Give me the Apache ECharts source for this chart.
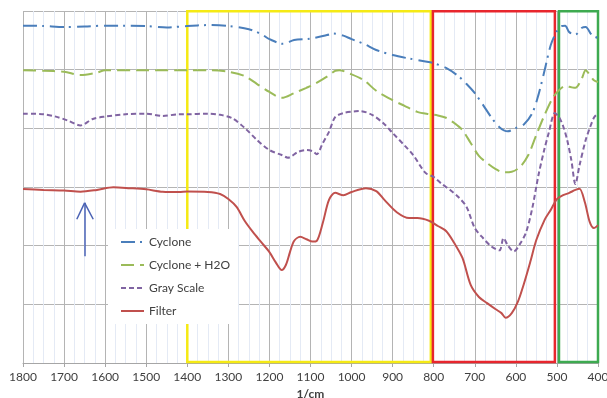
<!DOCTYPE html>
<html>
<head>
<meta charset="utf-8">
<script src="https://cdn.jsdelivr.net/npm/echarts@6/dist/echarts.min.js"></script>
<style>
  html, body { margin: 0; padding: 0; background: #fff; }
  #chart { width: 607px; height: 398px; }
</style>
</head>
<body>
<div id="chart"></div>
<script>
// x ticks (wavenumber, 1/cm)
const xTicks = [1800, 1700, 1600, 1500, 1400, 1300, 1200, 1100, 1000, 900, 800, 700, 600, 500, 400]

// Cyclone
const cycloneX = [1800, 1750, 1700, 1650, 1600, 1550, 1500, 1450, 1400, 1350, 1300, 1250, 1220, 1200, 1167, 1140, 1100, 1060, 1045, 1020, 1000, 970, 940, 900, 860, 820, 800, 770, 740, 720, 700, 680, 660, 640, 620, 600, 580, 560, 545, 530, 515, 500, 490, 480, 470, 455, 440, 430, 415, 400]
const cycloneY = [57.5, 57.44, 57.27, 57.35, 57.5, 57.5, 57.44, 57.2, 57.44, 57.6, 57.44, 56.9, 56.07, 55.2, 54.4, 55.05, 55.3, 55.9, 56.16, 55.8, 55.2, 54.4, 53.35, 52.5, 51.9, 51.4, 51.1, 50.3, 48.9, 47.55, 46.0, 44.0, 41.9, 40.2, 39.5, 40.05, 40.7, 42.6, 45.7, 49.9, 54.2, 56.6, 57.4, 57.5, 56.4, 56.0, 57.1, 57.27, 55.9, 55.4]

// Cyclone + H2O
const waterX = [1800, 1750, 1700, 1660, 1620, 1600, 1500, 1400, 1350, 1300, 1260, 1230, 1200, 1170, 1140, 1110, 1090, 1060, 1040, 1030, 1000, 970, 940, 900, 870, 840, 810, 790, 770, 750, 730, 710, 690, 670, 650, 630, 610, 590, 570, 550, 530, 510, 495, 480, 465, 455, 440, 430, 420, 410, 400]
const waterY = [49.9, 49.8, 49.65, 49.1, 49.5, 49.9, 49.9, 49.9, 49.9, 49.65, 48.9, 47.55, 46.2, 45.2, 46.0, 46.9, 47.55, 48.8, 49.8, 49.9, 49.2, 48.2, 46.4, 44.8, 43.8, 42.8, 42.4, 42.2, 41.8, 40.9, 39.7, 37.5, 35.3, 34.1, 33.1, 32.5, 32.6, 33.4, 35.4, 38.9, 42.3, 45.2, 46.5, 47.2, 47.0, 46.9, 48.4, 49.9, 49.1, 48.2, 47.9]

// Gray Scale
const grayX = [1800, 1750, 1720, 1690, 1660, 1630, 1600, 1550, 1500, 1460, 1420, 1400, 1350, 1320, 1290, 1260, 1230, 1200, 1170, 1155, 1130, 1110, 1095, 1085, 1070, 1055, 1040, 1020, 990, 980, 950, 920, 900, 870, 850, 820, 800, 780, 760, 740, 720, 700, 680, 660, 640, 630, 620, 605, 590, 575, 560, 545, 530, 520, 505, 495, 485, 475, 465, 455, 445, 430, 420, 410, 400]
const grayY = [42.5, 42.4, 42.0, 41.3, 40.5, 41.6, 42.0, 42.4, 42.5, 42.1, 42.4, 42.4, 42.5, 42.3, 41.7, 40.05, 38.0, 36.3, 35.45, 35.0, 36.0, 36.3, 36.1, 35.6, 37.5, 39.4, 41.9, 42.6, 42.9, 42.95, 42.3, 40.7, 39.2, 37.0, 35.45, 32.4, 31.7, 30.5, 29.5, 28.3, 26.6, 23.0, 21.3, 19.9, 19.2, 21.3, 20.1, 19.0, 20.3, 22.3, 26.4, 32.0, 36.6, 39.2, 42.6, 41.9, 40.4, 38.0, 34.6, 30.5, 33.7, 38.0, 40.05, 41.8, 42.6]

// Filter
const filterX = [1800, 1750, 1700, 1660, 1620, 1580, 1540, 1500, 1460, 1420, 1400, 1350, 1320, 1300, 1280, 1260, 1240, 1220, 1200, 1185, 1170, 1160, 1150, 1140, 1125, 1110, 1095, 1085, 1070, 1055, 1040, 1020, 1000, 965, 940, 920, 890, 860, 840, 810, 790, 770, 750, 730, 710, 690, 670, 650, 635, 625, 610, 595, 580, 565, 550, 530, 515, 500, 485, 470, 455, 445, 432, 420, 410, 400]
const filterY = [29.66, 29.5, 29.4, 29.2, 29.5, 29.95, 29.8, 29.6, 29.2, 29.15, 29.23, 29.15, 28.8, 27.95, 26.6, 24.2, 22.3, 20.6, 18.9, 17.2, 15.85, 16.7, 18.9, 20.8, 21.5, 21.1, 20.7, 20.8, 23.9, 27.8, 29.0, 28.6, 29.15, 29.8, 29.3, 27.8, 25.7, 24.7, 24.7, 24.2, 23.35, 22.5, 20.45, 17.9, 13.3, 11.25, 10.2, 9.2, 8.5, 7.7, 8.5, 10.45, 13.6, 17.2, 21.0, 24.4, 26.1, 27.95, 28.6, 29.0, 29.5, 29.7, 27.4, 24.0, 23.0, 23.5]

// highlighted ranges [from, to] in 1/cm
const yellowBox = [1400, 807]
const redBox = [802, 505]
const greenBox = [495, 400]

const chart = echarts.init(document.getElementById('chart'))

function pairs(xs, ys) {
  return xs.map((x, i) => [x, ys[i]])
}

function box(range, color) {
  return [{ xAxis: range[0], yAxis: 0.15, itemStyle: { color: 'rgba(0,0,0,0)', borderColor: color, borderWidth: 2.5 } },
          { xAxis: range[1], yAxis: 59.95 }]
}

const font = 'Lato, "Open Sans", sans-serif'

const option = {
  animation: false,
  grid: { left: 23, right: 9, top: 11, bottom: 35, outerBoundsMode: 'none' },
  legend: {
    orient: 'vertical',
    left: 108,
    top: 229,
    backgroundColor: '#ffffff',
    padding: [7, 8, 7, 12],
    itemGap: 11,
    itemWidth: 23,
    itemHeight: 14,
    itemStyle: { opacity: 0 },
    textStyle: { fontFamily: font, fontSize: 12, color: '#404040' },
    data: ['Cyclone', 'Cyclone + H2O', 'Gray Scale', 'Filter']
  },
  xAxis: {
    type: 'value',
    inverse: true,
    min: 400,
    max: 1800,
    interval: 100,
    name: '1/cm',
    nameLocation: 'middle',
    nameGap: 25,
    nameTextStyle: { fontFamily: font, fontSize: 12, fontWeight: 'bold', color: '#404040' },
    axisLine: { lineStyle: { color: '#A6A6A6' } },
    axisTick: { show: true, length: 4, lineStyle: { color: '#A6A6A6' } },
    axisLabel: { fontFamily: font, fontSize: 12, color: '#404040', margin: 8, formatter: v => String(v) },
    splitLine: { show: true, lineStyle: { color: '#B4B4B4' } },
    minorTick: { show: false, splitNumber: 4 },
    minorSplitLine: { show: true, lineStyle: { color: '#E4EAF5' } }
  },
  yAxis: {
    type: 'value',
    min: 0,
    max: 60,
    interval: 10,
    axisLine: { show: false },
    axisTick: { show: false },
    axisLabel: { show: false },
    splitLine: { show: true, lineStyle: { color: '#B4B4B4' } }
  },
  series: [
    {
      name: 'Cyclone',
      type: 'line',
      symbol: 'none',
      smooth: 0.3,
      color: '#4A7EBB',
      lineStyle: { width: 2, type: [14, 5, 2, 6] },
      data: pairs(cycloneX, cycloneY)
    },
    {
      name: 'Cyclone + H2O',
      type: 'line',
      symbol: 'none',
      smooth: 0.3,
      color: '#9BBB59',
      lineStyle: { width: 2, type: [13, 6] },
      data: pairs(waterX, waterY)
    },
    {
      name: 'Gray Scale',
      type: 'line',
      symbol: 'none',
      smooth: 0.3,
      color: '#8064A2',
      lineStyle: { width: 2, type: [5, 3] },
      data: pairs(grayX, grayY)
    },
    {
      name: 'Filter',
      type: 'line',
      symbol: 'none',
      smooth: 0.3,
      color: '#C0504D',
      lineStyle: { width: 2 },
      data: pairs(filterX, filterY),
      markArea: {
        silent: true,
        label: { show: false },
        data: [box(yellowBox, '#F5EA14'), box(redBox, '#E8262D'), box(greenBox, '#3DAA50')]
      },
      // blue arrow at 1650
      markLine: {
        silent: true,
        symbol: 'none',
        label: { show: false },
        lineStyle: { color: '#4A62B4', width: 1.5, type: 'solid' },
        data: [
          [{ coord: [1650, 18.2] }, { coord: [1650, 27.3] }],
          [{ coord: [1669, 24.5] }, { coord: [1650, 27.3] }],
          [{ coord: [1629, 24.5] }, { coord: [1650, 27.3] }]
        ]
      }
    }
  ]
}

chart.setOption(option)
</script>
</body>
</html>
